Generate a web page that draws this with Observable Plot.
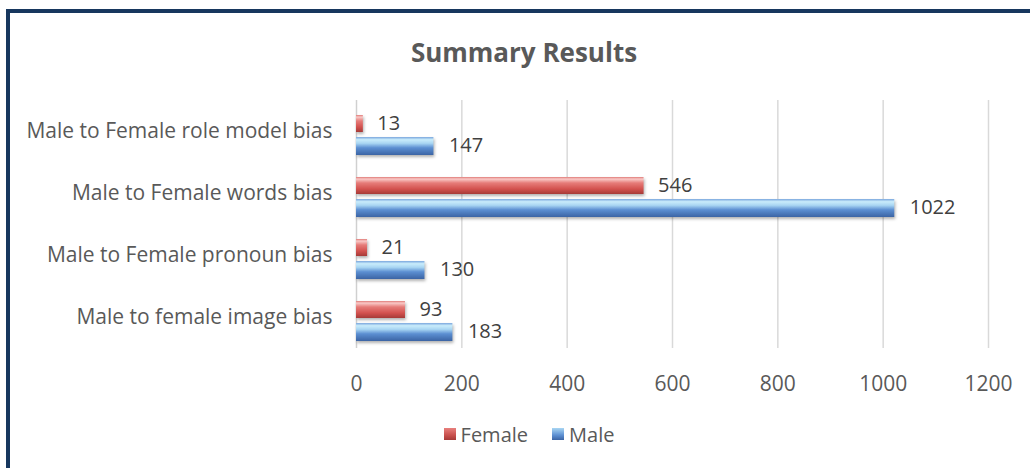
<!DOCTYPE html>
<html><head><meta charset="utf-8">
<script src="https://cdn.jsdelivr.net/npm/d3@7"></script>
<script src="https://cdn.jsdelivr.net/npm/@observablehq/plot@0.6"></script>
<style>
body{margin:0;background:#fff;font-family:"Open Sans",sans-serif;}
#wrap{position:relative;width:1030px;height:468px;overflow:hidden;background:#fff;}
#frame{position:absolute;left:6px;top:9px;width:1100px;height:600px;border-left:4px solid #17375e;border-top:4px solid #17375e;box-sizing:border-box;pointer-events:none;}
#title{height:80px;box-sizing:border-box;padding-top:36px;line-height:32px;text-align:center;padding-left:18px;font-weight:bold;font-size:26px;color:#595959;}
#chart svg{display:block;}
#legend{height:60px;display:flex;justify-content:center;align-items:center;padding-left:28px;box-sizing:border-box;padding-bottom:8px;font-size:20px;color:#595959;}
.item{display:flex;align-items:center;margin:0 12px;}
.sw{width:12px;height:12px;margin-right:5px;}
</style></head>
<body>
<div id="wrap">
<div id="title">Summary Results</div>
<div id="chart"></div>
<div id="legend">
  <div class="item"><div class="sw" style="background:linear-gradient(#e8807d,#c9504d 60%,#a63a37)"></div>Female</div>
  <div class="item"><div class="sw" style="background:linear-gradient(#a9d6f3,#5c8fd2 60%,#3b64a4)"></div>Male</div>
</div>
<div id="frame"></div>
</div>
<script>
const categories = ["Male to Female role model bias", "Male to Female words bias", "Male to Female pronoun bias", "Male to female image bias"];
const femaleValues = [13, 546, 21, 93];
const maleValues = [147, 1022, 130, 183];
const xTicks = [0, 200, 400, 600, 800, 1000, 1200];

const female = categories.map((c, i) => ({cat: c, value: femaleValues[i]}));
const male = categories.map((c, i) => ({cat: c, value: maleValues[i]}));

const chart = Plot.plot({
  width: 1030,
  height: 328,
  marginLeft: 356,
  marginRight: 42,
  marginTop: 20,
  marginBottom: 60,
  style: {fontFamily: "Open Sans", color: "#595959", background: "transparent"},
  x: {domain: [0, 1200]},
  y: {domain: categories, padding: 0},
  marks: [
    Plot.gridX(xTicks.slice(1), {stroke: "#d9d9d9", strokeOpacity: 1, strokeWidth: 1.5}),
    Plot.ruleX([0], {stroke: "#d0d0d0", strokeWidth: 1.5}),
    Plot.barX(female, {x: "value", y: "cat", insetTop: 15, insetBottom: 30, fill: "url(#gradF)"}),
    Plot.barX(male, {x: "value", y: "cat", insetTop: 37, insetBottom: 7, fill: "url(#gradM)"}),
    Plot.text(female, {x: "value", y: "cat", text: d => String(d.value), dx: 14, dy: -8, textAnchor: "start", fontSize: 20, fill: "#404040"}),
    Plot.text(male, {x: "value", y: "cat", text: d => String(d.value), dx: 15, dy: 14, textAnchor: "start", fontSize: 20, fill: "#404040"}),
    Plot.axisX(xTicks, {tickSize: 0, tickPadding: 28, fontSize: 21, fill: "#595959", label: null, tickFormat: d => String(d)}),
    Plot.axisY({tickSize: 0, tickPadding: 24, fontSize: 21, fill: "#595959", label: null})
  ]
});

const svg = d3.select(chart);
const defs = svg.insert("defs", ":first-child");
function grad(id, stops) {
  const g = defs.append("linearGradient").attr("id", id).attr("x1", 0).attr("y1", 0).attr("x2", 0).attr("y2", 1);
  stops.forEach(([o, c]) => g.append("stop").attr("offset", o).attr("stop-color", c));
}
grad("gradF", [[0, "#e07b78"], [0.12, "#f9c9c7"], [0.35, "#e67c79"], [0.7, "#d3524f"], [1, "#a63a37"]]);
grad("gradM", [[0, "#7aa6dd"], [0.15, "#c9ecfb"], [0.35, "#a9d6f3"], [0.6, "#5c8fd2"], [1, "#3b64a4"]]);
svg.selectAll("rect").style("filter", "drop-shadow(1px 2px 1.5px rgba(0,0,0,0.3))");

document.getElementById("chart").appendChild(chart);
</script>
</body></html>
